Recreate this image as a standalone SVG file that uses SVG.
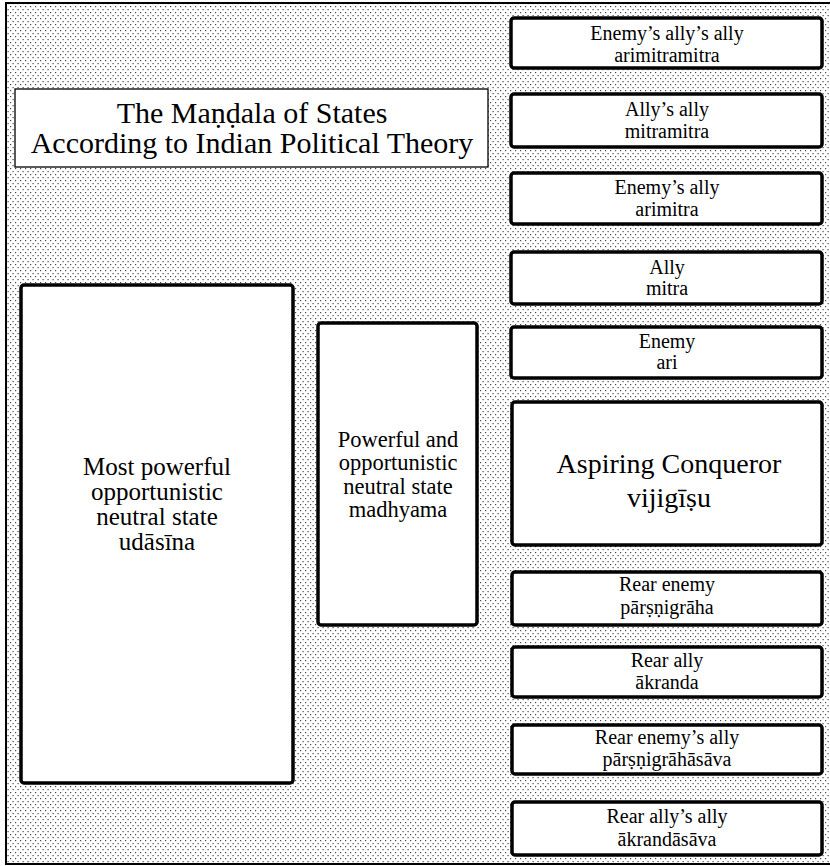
<svg xmlns="http://www.w3.org/2000/svg" width="830" height="866" viewBox="0 0 830 866">
  <defs>
    <pattern id="dots" x="0" y="0" width="5" height="6" patternUnits="userSpaceOnUse">
      <rect x="0" y="0" width="1.2" height="1.2" fill="#4a4a4a"/>
      <rect x="2.5" y="3" width="1.2" height="1.2" fill="#4a4a4a"/>
    </pattern>
  </defs>
  <style>
    .box { fill: #fff; stroke: #000; stroke-width: 3.5; }
    .title { fill: #fff; stroke: #000; stroke-width: 1.3; }
    .s { font-size: 20px; }
    .m { font-size: 22.5px; }
    .l { font-size: 25px; }
    .xl { font-size: 28px; }
    .t { font-size: 30px; }
  </style>

  <g id="background">
    <rect x="0" y="0" width="830" height="866" fill="#fff"/>
    <rect x="6" y="3" width="830" height="861" fill="url(#dots)" stroke="#000" stroke-width="2"/>
  </g>

  <g font-family="'Liberation Serif', 'Times New Roman', serif" text-anchor="middle" fill="#000">
  <g id="title">
    <rect class="title" x="15" y="89" width="473" height="78"/>
    <text class="t" x="252" y="123">The Maṇḍala of States</text>
    <text class="t" x="252" y="153">According to Indian Political Theory</text>
  </g>

  <g id="udasina">
    <rect class="box" x="21" y="285" width="272" height="498" rx="3"/>
    <text class="l" x="157" y="475">Most powerful</text>
    <text class="l" x="157" y="500">opportunistic</text>
    <text class="l" x="157" y="525">neutral state</text>
    <text class="l" x="157" y="550">udāsīna</text>
  </g>

  <g id="madhyama">
    <rect class="box" x="318" y="323" width="159" height="302" rx="3"/>
    <text class="m" x="398" y="447">Powerful and</text>
    <text class="m" x="398" y="470">opportunistic</text>
    <text class="m" x="398" y="494">neutral state</text>
    <text class="m" x="398" y="517">madhyama</text>
  </g>

  <g id="arimitramitra">
    <rect class="box" x="511" y="18" width="311" height="50" rx="3"/>
    <text class="s" x="667" y="40">Enemy’s ally’s ally</text>
    <text class="s" x="667" y="62">arimitramitra</text>
  </g>

  <g id="mitramitra">
    <rect class="box" x="511" y="94" width="311" height="53" rx="3"/>
    <text class="s" x="667" y="116">Ally’s ally</text>
    <text class="s" x="667" y="138">mitramitra</text>
  </g>

  <g id="arimitra">
    <rect class="box" x="511" y="173" width="311" height="51" rx="3"/>
    <text class="s" x="667" y="194">Enemy’s ally</text>
    <text class="s" x="667" y="216">arimitra</text>
  </g>

  <g id="mitra">
    <rect class="box" x="511" y="252" width="311" height="52" rx="3"/>
    <text class="s" x="667" y="274">Ally</text>
    <text class="s" x="667" y="295">mitra</text>
  </g>

  <g id="ari">
    <rect class="box" x="511" y="327" width="311" height="51" rx="3"/>
    <text class="s" x="667" y="348">Enemy</text>
    <text class="s" x="667" y="369">ari</text>
  </g>

  <g id="vijigisu">
    <rect class="box" x="512" y="402" width="310" height="143" rx="3"/>
    <text class="xl" x="669" y="473">Aspiring Conqueror</text>
    <text class="xl" x="669" y="507">vijigīṣu</text>
  </g>

  <g id="parsnigraha">
    <rect class="box" x="512" y="572" width="310" height="53" rx="3"/>
    <text class="s" x="667" y="591">Rear enemy</text>
    <text class="s" x="667" y="614">pārṣṇigrāha</text>
  </g>

  <g id="akranda">
    <rect class="box" x="512" y="647" width="310" height="50" rx="3"/>
    <text class="s" x="667" y="667">Rear ally</text>
    <text class="s" x="667" y="689">ākranda</text>
  </g>

  <g id="parsnigrahasava">
    <rect class="box" x="512" y="725" width="310" height="49" rx="3"/>
    <text class="s" x="667" y="744">Rear enemy’s ally</text>
    <text class="s" x="667" y="766">pārṣṇigrāhāsāva</text>
  </g>

  <g id="akrandasava">
    <rect class="box" x="512" y="802" width="310" height="53" rx="3"/>
    <text class="s" x="667" y="823">Rear ally’s ally</text>
    <text class="s" x="667" y="846">ākrandāsāva</text>
  </g>
  </g>

  <g id="connectors"></g>
</svg>
